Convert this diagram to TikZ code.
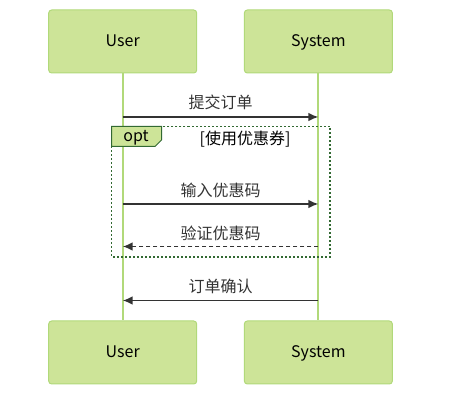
\documentclass[tikz,border=0pt]{standalone}
\usepackage{fontspec}
\setmainfont{Noto Sans CJK SC}
\usepackage{xcolor}
\usepackage{tikz}
\usetikzlibrary{arrows.meta}
\usetikzlibrary{positioning}

\definecolor{actorfill}{HTML}{CDE498}
\definecolor{actorline}{HTML}{B1D97A}
\definecolor{loopline}{HTML}{326932}
\definecolor{msgtext}{HTML}{333333}

\begin{document}
\begin{tikzpicture}[x=0.75pt, y=-0.75pt, node distance = 35pt, % gap between actors
			actor/.style={
					rectangle,
					draw=actorline,
					fill=actorfill,
					line width=0.75pt,
					rounded corners=2.25pt,
					minimum width=111pt,
					minimum height=47.25pt,
					font=\fontsize{12}{14}\selectfont,
					text depth=1pt,
					inner sep=0pt
				},
			life/.style={draw=actorline, line width=1.5pt},
			line/.style={draw=msgtext, line width=1.2pt, -{Latex[length=7.5pt,width=6.5pt]}},
			reply/.style={line, dash pattern=on 3pt off 2.25pt},
			msg/.style={text=msgtext, font=\fontsize{12}{14}\selectfont, inner sep=0pt}
		]
		\useasboundingbox (0,0) rectangle (450,402);
		% Place nodes
		\node [actor] (user) at (122.7,41.5) {User};
		\node [actor, right=of user] (sys) {System};
		\node [actor, below=185.25pt of user] (userb) {User};
		\node [actor, below=185.25pt of sys] (sysb) {System};
		% Lifelines
		\path [life] (user) -- (userb);
		\path [life] (sys) -- (sysb);
		% opt frame
		\draw [loopline, line width=1.2pt, dash pattern=on 1.5pt off 1.5pt] (111.5,126.5) rectangle (330,257);
		\draw [loopline, fill=actorfill, line width=0.75pt] (111.5,126.5) -- (161.5,126.5) -- (161.5,140) -- (155,146.5) -- (111.5,146.5) -- cycle;
		\node [font=\fontsize{12}{14}\selectfont, inner sep=0pt] (opt) at (136,137.5) {opt};
		\node [font=\fontsize{12}{14}\selectfont, inner sep=0pt] (guard) at (245,139) {[使用优惠券]};
		% Message rows
		\coordinate (m1) at (0,117);
		\coordinate (m2) at (0,204);
		\coordinate (m3) at (0,246.5);
		\coordinate (m4) at (0,300.5);
		% Draw edges
		\path [line] (user |- m1) -- node [msg, above=4.5pt] {提交订单} (sys |- m1);
		\path [line] (user |- m2) -- node [msg, above=4pt] {输入优惠码} (sys |- m2);
		\path [reply] (sys |- m3) -- node [msg, above=3.4pt] {验证优惠码} (user |- m3);
		\path [line] (sys |- m4) -- node [msg, above=4.3pt] {订单确认} (user |- m4);
	\end{tikzpicture}
\end{document}
